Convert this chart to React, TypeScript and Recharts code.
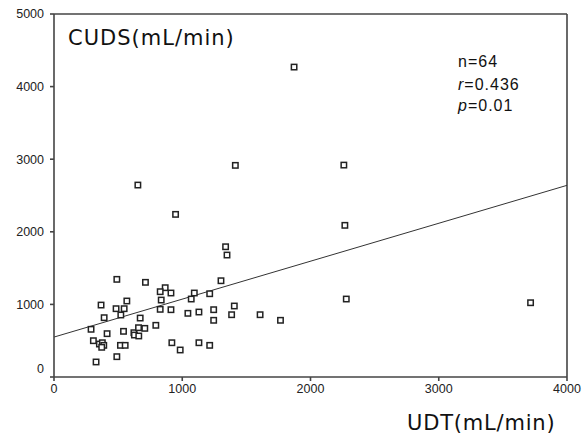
import React from "react";
import { ScatterChart, Scatter, XAxis, YAxis, ReferenceLine } from "recharts";

const udt = [490, 713, 867, 828, 912, 568, 367, 484, 547, 836, 828, 521, 391, 672, 289, 414, 542, 623, 627, 659, 708, 661, 794, 307, 354, 377, 388, 372, 518, 555, 328, 490, 1094, 1214, 1070, 1302, 912, 1044, 1130, 1245, 1245, 1406, 1385, 1607, 919, 984, 1130, 1214, 1766, 2279, 1414, 654, 948, 1338, 1349, 1872, 2260, 2268, 3716];
const cuds = [1345, 1304, 1230, 1175, 1157, 1047, 991, 941, 941, 1060, 932, 854, 817, 812, 657, 597, 629, 610, 578, 679, 670, 565, 712, 500, 454, 472, 436, 409, 436, 436, 207, 280, 1157, 1147, 1074, 1326, 927, 877, 895, 927, 781, 978, 858, 858, 472, 372, 472, 436, 781, 1074, 2915, 2644, 2240, 1794, 1680, 4269, 2919, 2089, 1023];

const xTicks = [0, 1000, 2000, 3000, 4000];
const yTicks = [0, 1000, 2000, 3000, 4000, 5000];
const fitLine = [
  { x: 0, y: 550 },
  { x: 4000, y: 2640 },
];
const stats = ["n=64", "=0.436", "=0.01"];

const points = udt.map((x, i) => ({ x, y: cuds[i] }));

const AXIS = "#444";

const SquareShape = (props: any) => {
  const { cx, cy } = props;
  if (cx == null || cy == null) return null;
  return (
    <rect x={cx - 2.7} y={cy - 2.7} width={5.4} height={5.4} fill="#fff" stroke="#222" strokeWidth={1.5} />
  );
};

const YTick = (props: any) => {
  const { x, y, payload } = props;
  const dy = payload.value === 0 ? -8 : 0;
  return (
    <text x={x} y={y + dy} dy="0.35em" textAnchor="end" fontSize={12.5} fill="#222" fontFamily="Liberation Sans, Arial, sans-serif">
      {payload.value}
    </text>
  );
};

const XTick = (props: any) => {
  const { x, y, payload } = props;
  return (
    <text x={x} y={y} dy="0.75em" textAnchor="middle" fontSize={12.5} fill="#222" fontFamily="Liberation Sans, Arial, sans-serif">
      {payload.value}
    </text>
  );
};

export default function App() {
  return (
    <div style={{ position: "absolute", left: 0, top: 0, width: 587, height: 435, background: "#fff" }}>
      <ScatterChart width={587} height={435} margin={{ top: 14, right: 20, bottom: 28, left: 0 }}>
        <XAxis
          type="number"
          dataKey="x"
          domain={[0, 4000]}
          ticks={xTicks}
          height={30}
          tickSize={4}
          tickMargin={3}
          stroke={AXIS}
          strokeWidth={1.6}
          tick={<XTick />}
          allowDataOverflow
        />
        <YAxis
          type="number"
          dataKey="y"
          domain={[0, 5000]}
          ticks={yTicks}
          width={54}
          tickSize={4}
          tickMargin={6}
          stroke={AXIS}
          strokeWidth={1.6}
          tick={<YTick />}
          allowDataOverflow
        />
        <ReferenceLine y={5000} stroke={AXIS} strokeWidth={1.6} />
        <ReferenceLine x={4000} stroke={AXIS} strokeWidth={1.6} />
        <ReferenceLine segment={fitLine} stroke="#333" strokeWidth={1} />
        <Scatter data={points} shape={<SquareShape />} isAnimationActive={false} />
      </ScatterChart>
      <svg width={587} height={435} style={{ position: "absolute", left: 0, top: 0, pointerEvents: "none" }}>
        <text x={68} y={45} fontSize={21} letterSpacing={1} fill="#111" fontFamily="DejaVu Sans, sans-serif">
          CUDS(mL/min)
        </text>
        <text x={407} y={430} fontSize={21} letterSpacing={0.8} fill="#111" fontFamily="DejaVu Sans, sans-serif">
          UDT(mL/min)
        </text>
        <text x={458} y={67} fontSize={16} letterSpacing={1} fill="#111" fontFamily="Liberation Sans, Arial, sans-serif">
          {stats[0]}
        </text>
        <text x={458} y={90} fontSize={16} letterSpacing={1} fill="#111" fontFamily="Liberation Sans, Arial, sans-serif">
          <tspan fontStyle="italic">r</tspan>
          {stats[1]}
        </text>
        <text x={458} y={111} fontSize={16} letterSpacing={1} fill="#111" fontFamily="Liberation Sans, Arial, sans-serif">
          <tspan fontStyle="italic">p</tspan>
          {stats[2]}
        </text>
      </svg>
    </div>
  );
}
